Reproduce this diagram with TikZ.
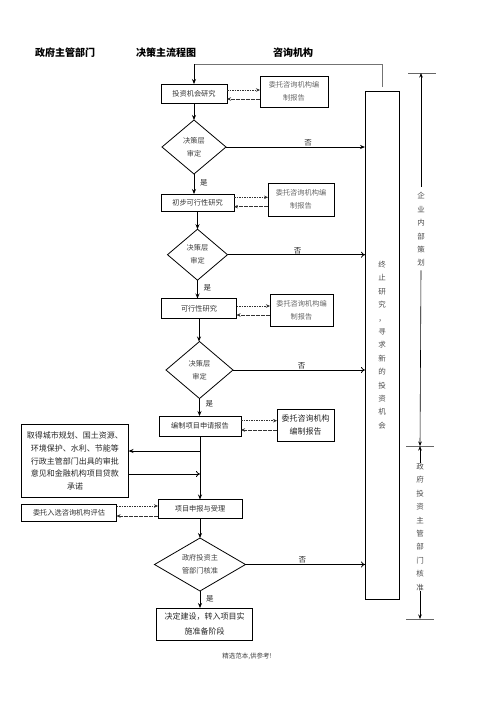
\documentclass[tikz,border=0pt]{standalone}
\usepackage{fontspec}
\setmainfont{Noto Sans CJK SC}
\usetikzlibrary{shapes.geometric,arrows.meta}
\begin{document}
\begin{tikzpicture}[x=1pt,y=-1pt,
  every node/.style={inner sep=0pt, outer sep=0pt},
  bx/.style={draw, line width=0.8pt, align=center, font=\fontsize{7.2}{12}\selectfont, text=black!80},
  cbx/.style={bx, text=black!60, font=\fontsize{7.2}{13.3}\selectfont},
  dia/.style={diamond, aspect=1.2, draw, line width=0.8pt, align=center, font=\fontsize{7.2}{13}\selectfont, text=black!75},
  arr/.style={line width=0.8pt, -{Stealth[length=5pt,width=4pt]}},
  noarr/.style={line width=0.8pt, -{To[length=4pt,width=6pt]}},
  dsh/.style={dash pattern=on 1.6pt off 0.9pt, line width=0.55pt, black!80, -{Stealth[length=4pt,width=3.5pt]}},
  lbl/.style={font=\fontsize{7.5}{9}\selectfont, text=black!85},
  hdr/.style={font=\bfseries\fontsize{10}{12}\selectfont},
  vtxt/.style={align=center, font=\fontsize{7.5}{13.4}\selectfont, text=black!70},
  tick/.style={line width=0.5pt, black!60},
  rarr/.style={line width=0.6pt, -{Stealth[length=4.5pt,width=3.5pt]}}
]
\useasboundingbox (0,0) rectangle (496,702);

% headers
\node[hdr] (h1) at (65,53) {政府主管部门};
\node[hdr] (h2) at (166,53) {决策主流程图};
\node[hdr] (h3) at (293,53) {咨询机构};

% main flow
\node[bx, minimum width=66pt, minimum height=19pt] (b1) at (194,93.5) {投资机会研究};
\node[cbx, minimum width=68pt, minimum height=31pt] (c1) at (294,91.5) {委托咨询机构编\\制报告};
\node[dia, minimum width=64pt, minimum height=54pt] (d1) at (194,147) {决策层\\审定};
\node[bx, minimum width=73pt, minimum height=17pt] (b2) at (197.5,202.5) {初步可行性研究};
\node[cbx, minimum width=66pt, minimum height=33pt] (c2) at (301,199.5) {委托咨询机构编\\制报告};
\node[dia, minimum width=60pt, minimum height=51pt] (d2) at (197.5,254.7) {决策层\\审定};
\node[bx, minimum width=75pt, minimum height=20pt] (b3) at (199,308.5) {可行性研究};
\node[cbx, minimum width=63pt, minimum height=32pt] (c3) at (301.5,310) {委托咨询机构编\\制报告};
\node[dia, minimum width=67pt, minimum height=57pt] (d3) at (199.5,370) {决策层\\审定};
\node[bx, minimum width=82pt, minimum height=20pt] (b4) at (200,426) {编制项目申请报告};
\node[cbx, text=black!85, font=\fontsize{8}{13}\selectfont, minimum width=57pt, minimum height=32pt] (c4) at (305.5,425) {委托咨询机构\\编制报告};
\node[bx, text=black!85, font=\fontsize{8}{12.9}\selectfont, minimum width=107pt, minimum height=73pt] (L) at (75,461) {取得城市规划、国土资源、\\环境保护、水利、节能等\\行政主管部门出具的审批\\意见和金融机构项目贷款\\承诺};
\node[bx, minimum width=84pt, minimum height=19pt] (b5) at (200,509) {项目申报与受理};
\node[bx, minimum width=95pt, minimum height=17pt] (s) at (69,512.5) {委托入选咨询机构评估};
\node[dia, aspect=1.7, minimum width=91pt, minimum height=53pt] (d4) at (200,564.5) {政府投资主\\管部门核准};
\node[bx, text=black!85, font=\fontsize{8}{15}\selectfont, minimum width=96pt, minimum height=32pt] (b6) at (204.5,624) {决定建设，转入项目实\\施准备阶段};

% termination box
\node[draw, line width=0.8pt, minimum width=34pt, minimum height=508pt, align=center, font=\fontsize{7.5}{13.4}\selectfont, text=black!70] (T) at (382,345) {终\\止\\研\\究\\，\\寻\\求\\新\\的\\投\\资\\机\\会};

% feedback line
\coordinate (fbR) at (382,64);
\coordinate (fbL) at (194,64);
\draw[line width=0.8pt, black!55] ([yshift=4pt]T.north) -- (fbR) -- (fbL);
\draw[arr] (fbL) -- (b1.north);

% vertical flow
\draw[arr] (b1.south) -- (d1.north);
\draw[arr] (d1.south) -- (d1.south |- b2.north) node[lbl, right=6pt, pos=0.45] {是};
\draw[arr] (b2.south) -- (b2.south |- d2.north);
\draw[arr] (d2.south) -- (d2.south |- b3.north) node[lbl, right=6pt, pos=0.43] {是};
\draw[arr] (b3.south) -- (b3.south |- d3.north);
\draw[arr] (d3.south) -- (d3.south |- b4.north) node[lbl, right=6pt, pos=0.3] {是};
\draw[arr] (b4.south) -- (b5.north);
\draw[arr] (b5.south) -- (d4.north);
\draw[arr] (d4.south) -- (d4.south |- b6.north) node[lbl, right=6pt, pos=0.45] {是};

% no branches
\draw[arr] (d1.east) -- (d1.east -| T.west) node[lbl, above=1pt, pos=0.59] {否};
\draw[noarr] (d2.east) -- (d2.east -| T.west) node[lbl, above=1pt, pos=0.51] {否};
\draw[noarr] (d3.east) -- (d3.east -| T.west) node[lbl, above=1pt, pos=0.52] {否};
\draw[noarr] (d4.east) -- (d4.east -| T.west) node[lbl, above=1pt, pos=0.475] {否};

% dashed consultant links
\coordinate (p1a) at ([yshift=3.5pt]b1.east);
\coordinate (p1b) at ([yshift=-5.5pt]b1.east);
\draw[dsh] (p1a) -- (p1a -| c1.west);
\draw[dsh] (p1b -| c1.west) -- (p1b);
\coordinate (p2a) at ([yshift=5.2pt]b2.east);
\coordinate (p2b) at ([yshift=-4.2pt]b2.east);
\draw[dsh] (p2a) -- (p2a -| c2.west);
\draw[dsh] (p2b -| c2.west) -- (p2b);
\coordinate (p3a) at ([yshift=2.5pt]b3.east);
\coordinate (p3b) at ([yshift=-6.5pt]b3.east);
\draw[dsh] (p3a) -- (p3a -| c3.west);
\draw[dsh] (p3b -| c3.west) -- (p3b);
\coordinate (p4a) at ([yshift=5.3pt]b4.east);
\coordinate (p4b) at ([yshift=-4pt]b4.east);
\draw[dsh] (p4a) -- (p4a -| c4.west);
\draw[dsh] (p4b -| c4.west) -- (p4b);
\coordinate (p5a) at ([yshift=3pt]b5.west);
\coordinate (p5b) at ([yshift=-7pt]b5.west);
\draw[dsh] (p5a -| s.east) -- (p5a);
\draw[dsh] (p5b) -- (p5b -| s.east);

% government approvals box links
\coordinate (La) at ([yshift=10pt]L.east);
\coordinate (Lb) at ([yshift=-13pt]L.east);
\draw[arr] (b4.south |- La) -- (La);
\draw[noarr] (Lb) -- (b4.south |- Lb);

% right side phases
\node[vtxt] (r1) at (421,229.5) {企\\业\\内\\部\\策\\划};
\node[vtxt] (r2) at (420,527) {政\\府\\投\\资\\主\\管\\部\\门\\核\\准};
\coordinate (t1) at (421,73);
\coordinate (t2) at (420,446);
\coordinate (t3) at (420,619);
\draw[tick] ([xshift=-13pt]t1) -- ([xshift=15pt]t1);
\draw[tick] ([xshift=-14pt]t2) -- ([xshift=14pt]t2);
\draw[tick] ([xshift=-14pt]t3) -- ([xshift=14pt]t3);
\draw[rarr] ([yshift=6pt]r1.north) -- (t1);
\draw[rarr] ([yshift=-4pt]r1.south) -- (t2);
\draw[rarr] (r2.north) -- (t2);
\draw[rarr] (r2.south) -- (t3);

% footer
\node[font=\fontsize{6.5}{8}\selectfont, text=black!75] (ft) at (247,656) {精选范本,供参考!};
\end{tikzpicture}
\end{document}
